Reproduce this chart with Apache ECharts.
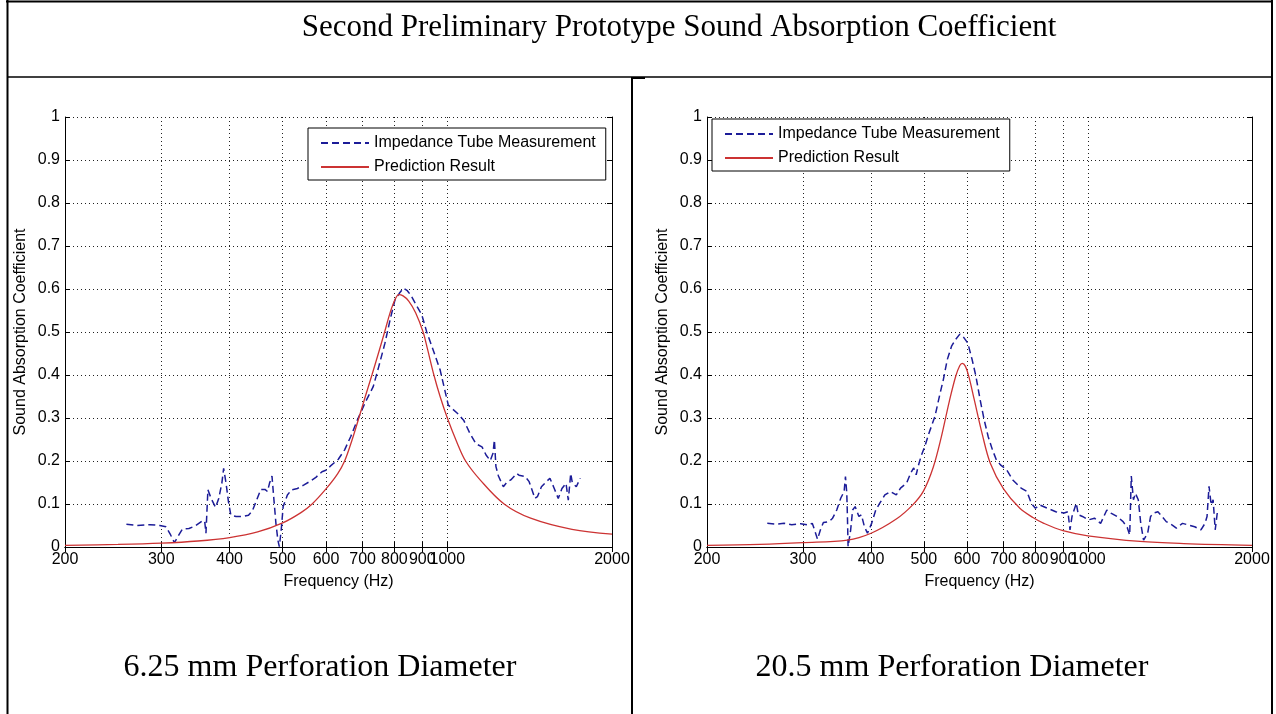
<!DOCTYPE html>
<html><head><meta charset="utf-8">
<script src="https://cdn.jsdelivr.net/npm/echarts@6/dist/echarts.min.js"></script>
<style>html,body{margin:0;padding:0;background:#fff}#c{width:1276px;height:714px}</style>
</head><body><div id="c"></div>
<script>
const titleText = 'Second Preliminary Prototype Sound Absorption Coefficient';
const captions = ['6.25 mm Perforation Diameter', '20.5 mm Perforation Diameter'];
const seriesNames = ['Impedance Tube Measurement', 'Prediction Result'];
const xTicks = [200, 300, 400, 500, 600, 700, 800, 900, 1000, 2000];
const xLabel = 'Frequency (Hz)';
const yLabel = 'Sound Absorption Coefficient';

// 6.25 mm panel
const meas625Freq = [259,271,286,298,306,312,317,323,328,337,346,355,360,362,365,370,377,382,387,390,394,398,402,411,422,433,440,448,456,464,469,473,478,482,486,490,493,497,501,510,519,532,546,560,575,590,601,611,632,649,666,684,709,732,749,769,787,802,817,831,845,858,878,898,917,941,970,1004,1043,1071,1100,1128,1157,1177,1198,1212,1219,1227,1240,1266,1284,1306,1339,1352,1387,1411,1446,1461,1486,1512,1540,1565,1595,1620,1648,1664,1681,1692,1721,1750];
const meas625Val = [.053,.050,.052,.050,.047,.028,.010,.028,.042,.043,.049,.059,.061,.032,.133,.113,.092,.113,.148,.183,.148,.105,.074,.071,.071,.074,.084,.109,.134,.134,.129,.148,.165,.109,.055,.016,.001,.040,.094,.121,.133,.136,.144,.152,.162,.175,.179,.188,.204,.226,.257,.294,.338,.373,.419,.474,.532,.574,.590,.602,.596,.585,.562,.540,.500,.460,.412,.330,.311,.295,.264,.240,.233,.214,.201,.218,.249,.187,.165,.140,.150,.156,.171,.167,.164,.152,.113,.117,.140,.150,.160,.139,.113,.136,.148,.109,.171,.150,.140,.160];
const pred625Freq = [200,250,300,350,400,450,500,540,566,600,630,649,670,689,708,728,748,768,786,802,815,830,850,875,903,920,945,970,1000,1040,1080,1150,1270,1420,1690,2000];
const pred625Val = [.004,.006,.009,.014,.022,.035,.056,.080,.100,.135,.170,.200,.250,.300,.350,.400,.450,.500,.545,.575,.587,.584,.572,.545,.500,.460,.400,.350,.300,.245,.200,.155,.100,.067,.041,.030];

// 20.5 mm panel
const meas205Freq = [258,267,277,286,297,307,312,315,319,323,327,335,340,346,352,357,359,361,362,363,367,370,374,380,384,389,394,401,408,415,424,434,445,453,465,473,479,484,488,494,502,511,524,534,543,552,562,572,582,592,602,613,623,634,645,656,668,679,691,709,728,754,773,787,801,815,843,873,904,919,927,935,952,960,977,1002,1028,1055,1083,1102,1131,1160,1181,1193,1201,1212,1222,1237,1250,1265,1287,1303,1321,1344,1368,1392,1428,1453,1491,1530,1570,1612,1640,1654,1668,1683,1697,1712,1727];
const meas205Val = [.055,.053,.055,.052,.054,.051,.055,.040,.018,.040,.057,.059,.067,.086,.114,.129,.164,.125,.071,.001,.040,.086,.094,.071,.075,.047,.032,.055,.086,.102,.121,.129,.121,.137,.149,.172,.184,.168,.187,.211,.234,.265,.304,.351,.390,.436,.467,.483,.495,.487,.474,.436,.397,.343,.296,.257,.226,.203,.191,.180,.156,.137,.129,.102,.090,.098,.090,.082,.079,.082,.040,.071,.102,.075,.071,.063,.067,.055,.086,.079,.071,.059,.045,.028,.165,.110,.125,.110,.055,.016,.032,.071,.079,.082,.071,.059,.051,.044,.055,.051,.047,.040,.055,.071,.141,.098,.110,.040,.079];
const pred205Freq = [200,250,300,362,400,445,477,499,520,538,557,572,582,588,596,605,618,640,662,700,750,794,830,900,1000,1246,1500,2000];
const pred205Val = [.004,.006,.010,.016,.032,.065,.098,.130,.185,.255,.340,.397,.422,.427,.420,.395,.345,.262,.195,.135,.090,.068,.055,.038,.026,.013,.008,.004];

const zip = (f, v) => f.map((x, i) => [x, v[i]]);
const SANS = "'Liberation Sans', Arial, Helvetica, sans-serif";
const SERIF = "'Liberation Serif', 'Times New Roman', serif";
const BLUE = '#1c1c98';
const RED = '#cc3333';
const grids = [
  {left: 65, top: 117, width: 547, height: 430},
  {left: 707, top: 117, width: 545, height: 430}
];
const txt = {fontFamily: SANS, fontSize: 16, color: '#000'};
const xAxes = [], yAxes = [];
grids.forEach((g, gi) => {
  xAxes.push({
    type: 'log', logBase: 10, gridIndex: gi, min: 200, max: 2000, position: 'bottom',
    name: xLabel, nameLocation: 'middle', nameGap: 27, nameTextStyle: txt,
    axisLine: {show: true, lineStyle: {color: '#000', width: 1}},
    axisTick: {show: true, inside: true, length: 5, customValues: xTicks, lineStyle: {color: '#000'}},
    minorTick: {show: false},
    axisLabel: Object.assign({show: true, customValues: xTicks, formatter: v => String(v), margin: 5, hideOverlap: false}, txt),
    splitLine: {show: true, lineStyle: {color: '#222', type: [1, 3], width: 1}}
  });
  xAxes.push({
    type: 'log', logBase: 10, gridIndex: gi, min: 200, max: 2000, position: 'top',
    axisLine: {show: true, lineStyle: {color: '#000', width: 1}},
    axisTick: {show: true, inside: true, length: 5, customValues: xTicks, lineStyle: {color: '#000'}},
    axisLabel: {show: false}, splitLine: {show: false}, minorTick: {show: false}
  });
  yAxes.push({
    type: 'value', gridIndex: gi, min: 0, max: 1, interval: 0.1, position: 'left',
    name: yLabel, nameLocation: 'middle', nameGap: 36, nameTextStyle: txt,
    axisLine: {show: true, lineStyle: {color: '#000', width: 1}},
    axisTick: {show: true, inside: true, length: 5, lineStyle: {color: '#000'}},
    axisLabel: Object.assign({formatter: v => String(Math.round(v * 10) / 10), margin: 5}, txt),
    splitLine: {show: true, lineStyle: {color: '#222', type: [1, 3], width: 1}}
  });
  yAxes.push({
    type: 'value', gridIndex: gi, min: 0, max: 1, interval: 0.1, position: 'right',
    axisLine: {show: true, lineStyle: {color: '#000', width: 1}},
    axisTick: {show: true, inside: true, length: 5, lineStyle: {color: '#000'}},
    axisLabel: {show: false}, splitLine: {show: false}
  });
});

const panels = [[meas625Freq, meas625Val, pred625Freq, pred625Val], [meas205Freq, meas205Val, pred205Freq, pred205Val]];
const series = [];
panels.forEach((p, gi) => {
  series.push({
    name: seriesNames[0], type: 'line', xAxisIndex: gi * 2, yAxisIndex: gi * 2,
    data: zip(p[0], p[1]), symbol: 'none', showSymbol: false,
    lineStyle: {color: BLUE, width: 1.5, type: [7, 4]}, itemStyle: {color: BLUE}
  });
  series.push({
    name: seriesNames[1], type: 'line', xAxisIndex: gi * 2, yAxisIndex: gi * 2,
    data: zip(p[2], p[3]), symbol: 'none', showSymbol: false, smooth: 0.35,
    lineStyle: {color: RED, width: 1.3}, itemStyle: {color: RED}
  });
});

const legendBase = {
  orient: 'vertical', data: seriesNames, itemWidth: 48, itemHeight: 14, itemGap: 8,
  padding: [7, 10, 5, 12], borderColor: '#000', borderWidth: 1, backgroundColor: '#fff',
  textStyle: txt, selectedMode: false,
  itemStyle: {opacity: 0, borderWidth: 0, color: 'rgba(0,0,0,0)'}
};

const line = (x1, y1, x2, y2, w) => ({type: 'line', shape: {x1, y1, x2, y2}, style: {stroke: '#000', lineWidth: w}, z: 100});
const option = {
  animation: false,
  backgroundColor: '#fff',
  grid: grids,
  xAxis: xAxes,
  yAxis: yAxes,
  series: series,
  legend: [
    Object.assign({left: 308, top: 128}, legendBase),
    Object.assign({left: 712, top: 119}, legendBase)
  ],
  graphic: [
    line(6, 1.5, 1273, 1.5, 2),
    line(7.5, 0, 7.5, 714, 2),
    line(1272, 0, 1272, 714, 2),
    line(7, 77, 1272, 77, 1.5),
    line(632, 77, 632, 714, 2),
    line(632, 78, 645, 78, 2),
    {type: 'text', x: 679, y: 28, style: {text: titleText, fontFamily: SERIF, fontSize: 31, fill: '#000', align: 'center', verticalAlign: 'middle'}},
    {type: 'text', x: 320, y: 668, style: {text: captions[0], fontFamily: SERIF, fontSize: 32, fill: '#000', align: 'center', verticalAlign: 'middle'}},
    {type: 'text', x: 952, y: 668, style: {text: captions[1], fontFamily: SERIF, fontSize: 32, fill: '#000', align: 'center', verticalAlign: 'middle'}}
  ]
};
const chart = echarts.init(document.getElementById('c'), null, {renderer: 'canvas'});
chart.setOption(option);
</script>
</body></html>
